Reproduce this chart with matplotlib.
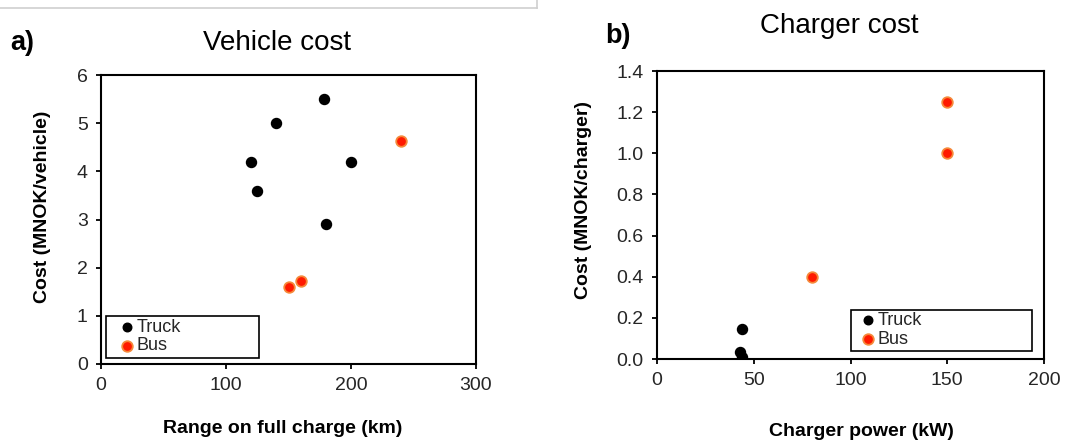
import matplotlib
matplotlib.use("Agg")
import matplotlib.pyplot as plt
from matplotlib.lines import Line2D
from matplotlib.patches import Rectangle
from matplotlib.ticker import FormatStrFormatter

plt.rcParams["font.family"] = ["Liberation Sans", "DejaVu Sans"]

# vehicle cost data (range km, cost MNOK/vehicle)
truck_range = [120, 125, 140, 178, 180, 200]
truck_vcost = [4.2, 3.6, 5.0, 5.5, 2.9, 4.2]
bus_range = [150, 160, 240]
bus_vcost = [1.6, 1.73, 4.64]

# charger cost data (power kW, cost MNOK/charger)
truck_power = [44, 43, 44]
truck_ccost = [0.147, 0.034, 0.01]
bus_power = [80, 150, 150]
bus_ccost = [0.4, 1.25, 1.0]

RED = "#ff1a00"
EDGE = "#f5893a"
TXT = "#262626"
W, H = 1072, 442


def style_axes(ax):
    for sp in ax.spines.values():
        sp.set_linewidth(1.5)
        sp.set_color("black")
    ax.tick_params(direction="out", length=3.5, width=1.3, labelsize=14,
                   colors="black", labelcolor=TXT, pad=6)


def add_legend(ax, anchor, box):
    leg = ax.legend(loc="center left", bbox_to_anchor=anchor, fontsize=13,
                    handlelength=0.6, handletextpad=0.25, labelspacing=0.1,
                    borderpad=0, borderaxespad=0, frameon=False)
    for t in leg.get_texts():
        t.set_color(TXT)
    leg.legend_handles[0].set_sizes([38])
    leg.legend_handles[1].set_sizes([58])
    ax.add_patch(Rectangle(box[:2], box[2], box[3], transform=ax.transAxes,
                           fill=False, edgecolor="black", lw=1.2, zorder=4))


fig = plt.figure(figsize=(W / 100, H / 100), dpi=100)

# light frame remnant at the top-left
fig.add_artist(Line2D([0, 537 / W], [1 - 8 / H, 1 - 8 / H],
                      transform=fig.transFigure, color="#cfcfcf", lw=1.2))
fig.add_artist(Line2D([537 / W, 537 / W], [1, 1 - 8 / H],
                      transform=fig.transFigure, color="#cfcfcf", lw=1.2))

ax1 = fig.add_axes([101 / W, 1 - 364 / H, 375 / W, 289 / H])
ax1.scatter(truck_range, truck_vcost, s=52, color="black", label="Truck", zorder=3)
ax1.scatter(bus_range, bus_vcost, s=58, color=RED, edgecolors=EDGE,
            linewidths=1.3, label="Bus", zorder=3)
ax1.set_xlim(0, 300)
ax1.set_ylim(0, 6)
ax1.set_xticks([0, 100, 200, 300])
ax1.set_yticks(range(7))
style_axes(ax1)
add_legend(ax1, (0.055, 0.095), (0.012, 0.021, 0.409, 0.145))

ax2 = fig.add_axes([657 / W, 1 - 359 / H, 387 / W, 288 / H])
ax2.scatter(truck_power, truck_ccost, s=52, color="black", label="Truck", zorder=3)
ax2.scatter(bus_power, bus_ccost, s=58, color=RED, edgecolors=EDGE,
            linewidths=1.3, label="Bus", zorder=3)
ax2.set_xlim(0, 200)
ax2.set_ylim(0, 1.4)
ax2.set_xticks([0, 50, 100, 150, 200])
ax2.set_yticks([0, 0.2, 0.4, 0.6, 0.8, 1.0, 1.2, 1.4])
ax2.yaxis.set_major_formatter(FormatStrFormatter("%.1f"))
style_axes(ax2)
add_legend(ax2, (0.531, 0.1007), (0.501, 0.028, 0.468, 0.142))

# titles, panel letters and axis labels
fig.text(277 / W, 1 - 50 / H, "Vehicle cost", fontsize=20,
         ha="center", va="baseline")
fig.text(839 / W, 1 - 33 / H, "Charger cost", fontsize=20,
         ha="center", va="baseline")
fig.text(10 / W, 1 - 50 / H, "a)", fontsize=19.5, fontweight="bold",
         ha="left", va="baseline")
fig.text(605 / W, 1 - 43 / H, "b)", fontsize=19.5, fontweight="bold",
         ha="left", va="baseline")
fig.text(43 / W, 1 - 207 / H, "Cost (MNOK/vehicle)", fontsize=14,
         fontweight="bold", rotation=90, ha="center", va="center")
fig.text(583 / W, 1 - 200 / H, "Cost (MNOK/charger)", fontsize=14,
         fontweight="bold", rotation=90, ha="center", va="center")
fig.text(283 / W, 1 - 433 / H, "Range on full charge (km)", fontsize=14,
         fontweight="bold", ha="center", va="baseline")
fig.text(861 / W, 1 - 436 / H, "Charger power (kW)", fontsize=14,
         fontweight="bold", ha="center", va="baseline")

fig.savefig("out.png", dpi=100)
